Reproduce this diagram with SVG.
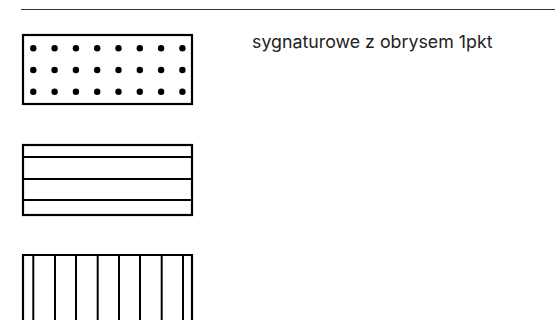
<svg xmlns="http://www.w3.org/2000/svg" width="555" height="320" viewBox="0 0 555 320">
<style>
.box{fill:none;stroke:#000;stroke-width:2.2}
.ln{stroke:#000;stroke-width:2}
.dot{fill:#000}
.lbl{font-family:Inter,"Liberation Sans",sans-serif;font-size:17.8px;fill:#222}
</style>
<rect width="555" height="320" fill="#fff"/>
<line x1="21" y1="9.5" x2="555" y2="9.5" stroke="#333" stroke-width="1"/>
<g id="dots">
<rect class="box" x="23" y="35" width="169" height="69"/>
<g class="dot">
<circle cx="33.3" cy="48.3" r="3.2"/><circle cx="54.6" cy="48.3" r="3.2"/><circle cx="75.9" cy="48.3" r="3.2"/><circle cx="97.2" cy="48.3" r="3.2"/><circle cx="118.5" cy="48.3" r="3.2"/><circle cx="139.8" cy="48.3" r="3.2"/><circle cx="161.1" cy="48.3" r="3.2"/><circle cx="182.4" cy="48.3" r="3.2"/>
<circle cx="33.3" cy="70" r="3.2"/><circle cx="54.6" cy="70" r="3.2"/><circle cx="75.9" cy="70" r="3.2"/><circle cx="97.2" cy="70" r="3.2"/><circle cx="118.5" cy="70" r="3.2"/><circle cx="139.8" cy="70" r="3.2"/><circle cx="161.1" cy="70" r="3.2"/><circle cx="182.4" cy="70" r="3.2"/>
<circle cx="33.3" cy="91.7" r="3.2"/><circle cx="54.6" cy="91.7" r="3.2"/><circle cx="75.9" cy="91.7" r="3.2"/><circle cx="97.2" cy="91.7" r="3.2"/><circle cx="118.5" cy="91.7" r="3.2"/><circle cx="139.8" cy="91.7" r="3.2"/><circle cx="161.1" cy="91.7" r="3.2"/><circle cx="182.4" cy="91.7" r="3.2"/>
</g>
</g>
<g id="horizontal">
<rect class="box" x="23" y="145" width="169" height="70"/>
<line class="ln" x1="23" y1="157" x2="192" y2="157"/>
<line class="ln" x1="23" y1="179" x2="192" y2="179"/>
<line class="ln" x1="23" y1="200" x2="192" y2="200"/>
</g>
<g id="vertical">
<path class="box" d="M23,321 V255 H192 V321"/>
<line class="ln" x1="33.3" y1="255" x2="33.3" y2="320" stroke-width="1.5"/>
<line class="ln" x1="55" y1="255" x2="55" y2="320"/>
<line class="ln" x1="76" y1="255" x2="76" y2="320"/>
<line class="ln" x1="97.7" y1="255" x2="97.7" y2="320" stroke-width="1.5"/>
<line class="ln" x1="119" y1="255" x2="119" y2="320"/>
<line class="ln" x1="140" y1="255" x2="140" y2="320"/>
<line class="ln" x1="161.7" y1="255" x2="161.7" y2="320" stroke-width="1.5"/>
<line class="ln" x1="183" y1="255" x2="183" y2="320"/>
</g>
<text class="lbl" x="252" y="48.3">sygnaturowe z obrysem 1pkt</text>
</svg>
